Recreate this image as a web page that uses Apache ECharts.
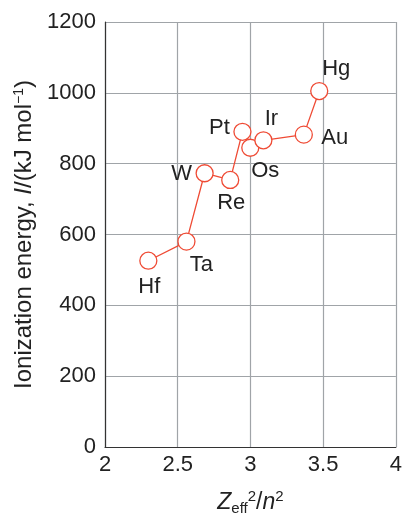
<!DOCTYPE html>
<html><head><meta charset="utf-8">
<script src="https://cdn.jsdelivr.net/npm/echarts@6/dist/echarts.min.js"></script>
<style>html,body{margin:0;padding:0;background:#fff}#c{width:405px;height:521px}</style>
</head><body><div id="c"></div>
<script>
const elements = ['Hf','Ta','W','Re','Pt','Os','Ir','Au','Hg'];
const zeff = [2.298, 2.56, 2.685, 2.861, 2.945, 2.999, 3.089, 3.367, 3.473];
const energy = [526, 580, 773, 754, 890, 845, 866, 882, 1005];
const xTicks = [2, 2.5, 3, 3.5, 4];
const yTicks = [0, 200, 400, 600, 800, 1000, 1200];

// label placement (layout only)
const labelOffset = {Hf:[1,26],Ta:[15,23],W:[-23,1],Re:[1,23],Pt:[-23,-4],Os:[15,23],Ir:[8,-21],Au:[31,3],Hg:[17,-22]};

const FONT = 'Liberation Sans, Arial, sans-serif';
const red = '#ef4b35';
const ink = '#222';
const chart = echarts.init(document.getElementById('c'));
chart.setOption({
  animation:false,
  grid:{left:105,right:5,top:22,bottom:66,containLabel:false},
  xAxis:{type:'value',min:xTicks[0],max:xTicks[xTicks.length-1],interval:0.5,
    axisLine:{show:true,lineStyle:{color:'#333',width:1.2}},axisTick:{show:false},
    splitLine:{show:true,lineStyle:{color:'#a0a4a8',width:1.2}},
    axisLabel:{color:ink,fontSize:22,fontFamily:FONT,margin:7,formatter:v=>String(v)},
    name:'{zi|Z}{sub|eff}{sup|2}{n|/}{zi|n}{sup|2}',nameLocation:'middle',nameGap:42,
    nameTextStyle:{fontFamily:FONT,color:ink,rich:{
      zi:{fontSize:23,fontStyle:'italic',fontFamily:FONT,color:ink},
      n:{fontSize:23,fontFamily:FONT,color:ink},
      sub:{fontSize:15,fontFamily:FONT,color:ink,verticalAlign:'bottom',padding:[12,0,0,0]},
      sup:{fontSize:15,fontFamily:FONT,color:ink,verticalAlign:'top',padding:[0,0,9,0]}
    }}
  },
  yAxis:{type:'value',min:yTicks[0],max:yTicks[yTicks.length-1],interval:200,
    axisLine:{show:true,lineStyle:{color:'#333',width:1.2}},axisTick:{show:false},
    splitLine:{show:true,lineStyle:{color:'#a0a4a8',width:1.2}},
    axisLabel:{color:ink,fontSize:22,fontFamily:FONT,margin:9,formatter:v=>String(v)},
    name:'{t|Ionization energy, }{i|I}{t|/(kJ mol}{sup|−1}{t|)}',nameLocation:'middle',nameGap:68,
    nameTextStyle:{fontFamily:FONT,color:ink,rich:{
      t:{fontSize:24,fontFamily:FONT,color:ink},
      i:{fontSize:24,fontStyle:'italic',fontFamily:FONT,color:ink},
      sup:{fontSize:14,fontFamily:FONT,color:ink,verticalAlign:'top',padding:[0,0,10,0]}
    }}
  },
  series:[{
    type:'line',
    data:elements.map((e,i)=>({name:e,value:[zeff[i],energy[i]],
      label:{show:true,position:'inside',offset:labelOffset[e],formatter:e}})),
    symbol:'circle',symbolSize:17,
    itemStyle:{color:'#fff',borderColor:red,borderWidth:1.3},
    lineStyle:{color:red,width:1.3},
    label:{color:ink,fontSize:22,fontFamily:FONT},
    z:3
  }]
});
</script></body></html>
